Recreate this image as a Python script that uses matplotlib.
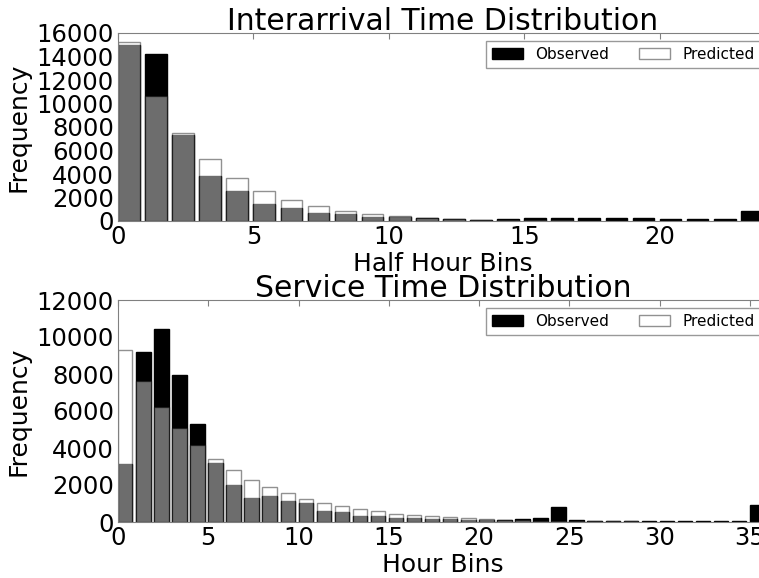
"""
dist_plot.py
"""
import numpy as np
import matplotlib
matplotlib.use('Agg')
import matplotlib.pyplot as plt
# ------------------------Data--------------------------------------------------
arr_bins = list(range(24))
arr_obs = [15000, 14250, 7320, 3860, 2550, 1420, 1080, 680, 620, 340, 380, 250,
           170, 120, 200, 220, 250, 220, 250, 220, 180, 140, 150, 850]
arr_pred = [15250, 10650, 7460, 5250, 3690, 2530, 1760, 1250, 830, 600, 400, 260,
            180, 125, 90, 62, 43, 30, 21, 15, 10, 7, 5, 3]

svc_bins = list(range(36))
svc_obs = [3130, 9170, 10450, 7940, 5280, 3190, 1990, 1320, 1410, 1150, 1020, 570,
           540, 340, 300, 210, 210, 180, 140, 130, 110, 100, 140, 210, 800, 120,
           60, 50, 50, 40, 40, 40, 50, 50, 60, 930]
svc_pred = [9320, 7610, 6230, 5100, 4170, 3420, 2790, 2290, 1880, 1560, 1250, 1020,
            860, 720, 590, 450, 390, 300, 250, 200, 150, 120, 90, 70, 60, 50,
            40, 35, 30, 25, 20, 15, 12, 10, 8, 6]
# ------------------------------------------------------------------------------
plt.rcParams['font.family'] = 'DejaVu Sans'
W, H = 759.0, 578.0
grey = '#808080'

def draw(ax, bins, obs, pred, title, xlabel, ymax, ystep):
    ax.bar(bins, obs, width=0.8, align='edge', color='black', edgecolor='black',
           linewidth=1, label='Observed')
    ax.bar(bins, pred, width=0.8, align='edge', color='white', edgecolor='black',
           linewidth=1, alpha=0.43, label='Predicted')
    ax.set_xlim(0, len(bins))
    ax.set_ylim(0, ymax)
    ax.set_yticks(np.arange(0, ymax + 1, ystep))
    ax.set_xticks(np.arange(0, len(bins), 5))
    ax.set_title(title, fontsize=21.5, pad=2)
    ax.set_xlabel(xlabel, fontsize=18, labelpad=2)
    ax.set_ylabel('Frequency', fontsize=18, labelpad=4)
    ax.tick_params(axis='x', direction='in', top=True, bottom=False, length=4,
                   color=grey, labelsize=17.5, pad=3)
    ax.tick_params(axis='y', length=0, labelsize=17.5, pad=3)
    for s in ax.spines.values():
        s.set_color(grey)
    leg = ax.legend(loc='upper right', ncol=2, fontsize=11, fancybox=False,
                    handlelength=2.0, handleheight=0.7, columnspacing=2.0,
                    borderaxespad=0.5)
    leg.get_frame().set_edgecolor(grey)
    leg.get_frame().set_linewidth(1)

fig = plt.figure(figsize=(W / 100, H / 100), dpi=100)
ax1 = fig.add_axes([118 / W, (H - 221) / H, 650 / W, 188 / H])
ax2 = fig.add_axes([118 / W, (H - 522) / H, 650 / W, 222 / H])

draw(ax1, arr_bins, arr_obs, arr_pred, 'Interarrival Time Distribution',
     'Half Hour Bins', 16000, 2000)
draw(ax2, svc_bins, svc_obs, svc_pred, 'Service Time Distribution',
     'Hour Bins', 12000, 2000)

plt.savefig('out.png', dpi=100)
